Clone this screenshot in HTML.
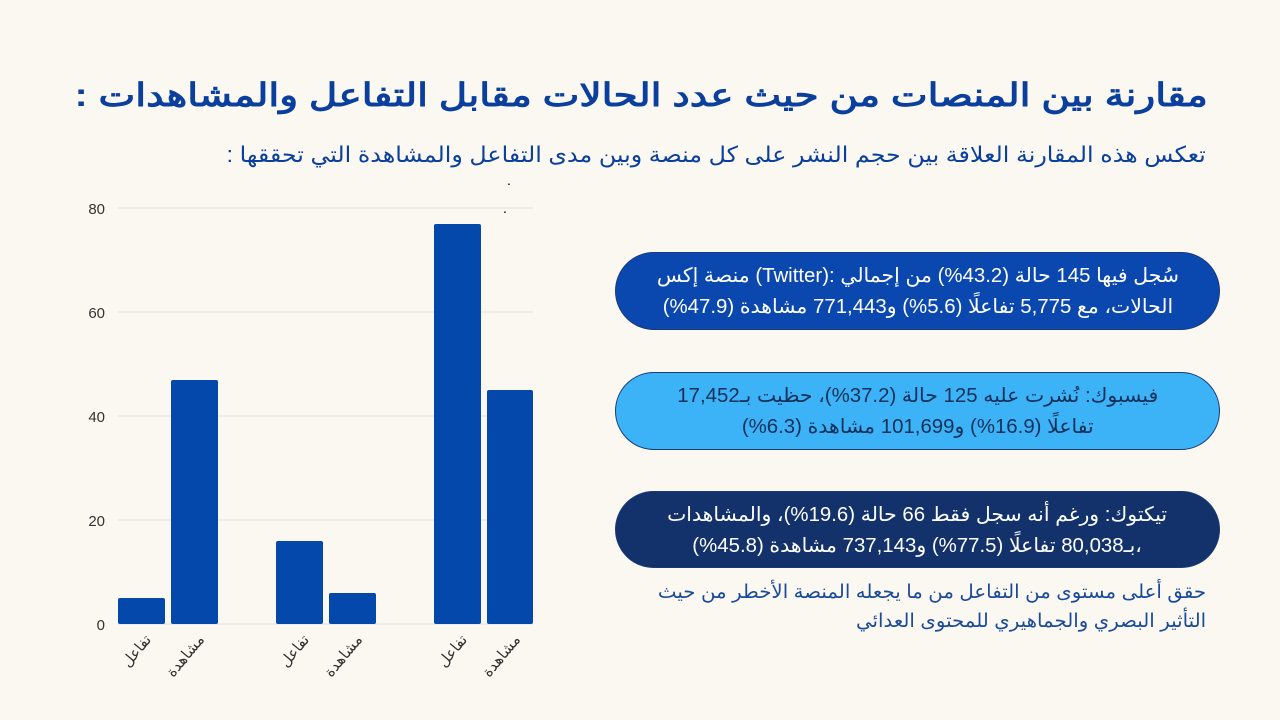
<!DOCTYPE html>
<html><head><meta charset="utf-8"><style>
body{margin:0;width:1280px;height:720px;background:#fbf8f2;position:relative;overflow:hidden;font-family:"Liberation Sans","DejaVu Sans",sans-serif}
.t{position:absolute;direction:rtl;white-space:nowrap;transform-origin:right center}
.box{position:absolute;left:615px;width:605px;border-radius:40px;border:1.5px solid #1a3a7a;box-sizing:border-box;direction:rtl;text-align:center;font-size:20px;line-height:31px;padding-top:8px}
.box span{display:inline-block;transform:scaleX(1.02)}
</style></head><body>
<div class="t" style="right:72px;top:76px;font-size:32px;font-weight:bold;color:#0a3f9e;font-family:'Liberation Sans',sans-serif;transform:scaleX(1.22)">مقارنة بين المنصات من حيث عدد الحالات مقابل التفاعل والمشاهدات :</div>
<div class="t" style="right:74px;top:142px;font-size:22px;color:#0a3f9e;transform:scaleX(1.08)">تعكس هذه المقارنة العلاقة بين حجم النشر على كل منصة وبين مدى التفاعل والمشاهدة التي تحققها :</div>
<div style="position:absolute;left:507px;top:172px;font-size:14px">.</div>
<div style="position:absolute;left:503px;top:200px;font-size:14px">.</div>
<svg width="1280" height="720" style="position:absolute;left:0;top:0">
<g stroke="#e2e0da" stroke-width="1">
<line x1="118" x2="533" y1="208" y2="208"/><line x1="118" x2="533" y1="312" y2="312"/><line x1="118" x2="533" y1="416" y2="416"/><line x1="118" x2="533" y1="520" y2="520"/><line x1="118" x2="533" y1="624" y2="624"/>
</g>
<g font-family="Liberation Sans" font-size="15" fill="#333" text-anchor="end">
<text x="105" y="214">80</text><text x="105" y="318">60</text><text x="105" y="422">40</text><text x="105" y="526">20</text><text x="105" y="630">0</text>
</g>
<g fill="#0548ac">
<rect x="118" y="598" width="47" height="26" rx="2"/><rect x="171" y="380" width="47" height="244" rx="2"/>
<rect x="276" y="541" width="47" height="83" rx="2"/><rect x="329" y="593" width="47" height="31" rx="2"/>
<rect x="434" y="224" width="47" height="400" rx="2"/><rect x="487" y="390" width="46" height="234" rx="2"/>
</g>
<g font-family="Liberation Sans,DejaVu Sans,sans-serif" font-size="15" fill="#333" text-anchor="end">
<text transform="translate(152,640) rotate(-50)">تفاعل</text>
<text transform="translate(205,640) rotate(-50)">مشاهدة</text>
<text transform="translate(310,640) rotate(-50)">تفاعل</text>
<text transform="translate(363,640) rotate(-50)">مشاهدة</text>
<text transform="translate(468,640) rotate(-50)">تفاعل</text>
<text transform="translate(521,640) rotate(-50)">مشاهدة</text>
</g>
</svg>
<div class="box" style="top:252px;height:78px;background:#0a48b0;color:#fff"><span>سُجل فيها 145 حالة (43.2%) من إجمالي :(Twitter) منصة إكس<br>الحالات، مع 5,775 تفاعلًا (5.6%) و771,443 مشاهدة (47.9%)</span></div>
<div class="box" style="top:372px;height:78px;background:#3cb2f7;color:#12305a"><span>فيسبوك: نُشرت عليه 125 حالة (37.2%)، حظيت بـ17,452<br>تفاعلًا (16.9%) و101,699 مشاهدة (6.3%)</span></div>
<div class="box" style="top:491px;height:77px;background:#13326c;color:#fff"><span>تيكتوك: ورغم أنه سجل فقط 66 حالة (19.6%)، والمشاهدات<br>،بـ80,038 تفاعلًا (77.5%) و737,143 مشاهدة (45.8%)</span></div>
<div class="t" style="right:74px;top:578px;font-size:19px;line-height:29px;color:#1a4a9a;transform:scaleX(1.04)">حقق أعلى مستوى من التفاعل من ما يجعله المنصة الأخطر من حيث<br>التأثير البصري والجماهيري للمحتوى العدائي</div>
</body></html>
